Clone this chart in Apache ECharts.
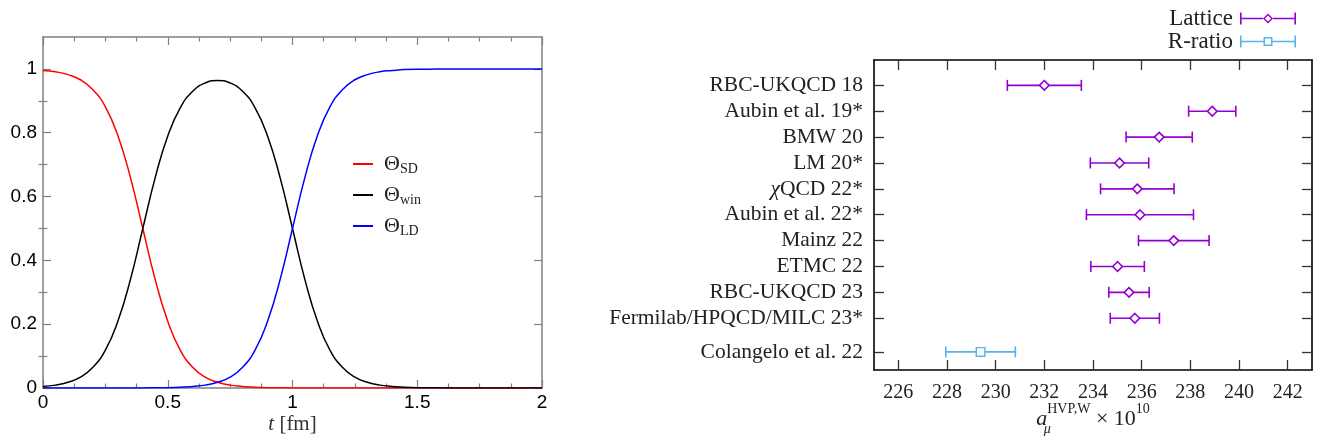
<!DOCTYPE html>
<html>
<head>
<meta charset="utf-8">
<script src="https://cdn.jsdelivr.net/npm/echarts@6/dist/echarts.min.js"></script>
<style>
  html, body { margin: 0; padding: 0; background: #fff; }
  #chart { width: 1331px; height: 447px; }
</style>
</head>
<body>
<div id="chart"></div>
<script>
// ---- Left panel: window weight functions vs Euclidean time t [fm] ----
const tValues = [0, 0.05, 0.1, 0.15, 0.2, 0.25, 0.3, 0.35, 0.4, 0.45, 0.5, 0.55, 0.6, 0.65, 0.7, 0.75, 0.8, 0.85, 0.9, 0.95,
                 1.0, 1.05, 1.1, 1.15, 1.2, 1.25, 1.3, 1.35, 1.4, 1.45, 1.5, 1.55, 1.6, 1.65, 1.7, 1.75, 1.8, 1.85, 1.9, 1.95, 2.0];
const thetaSD  = [0.995, 0.991, 0.982, 0.966, 0.935, 0.881, 0.791, 0.661, 0.500, 0.339, 0.209, 0.119, 0.065, 0.034, 0.018, 0.009, 0.005, 0.002, 0.001, 0.001,
                  0, 0, 0, 0, 0, 0, 0, 0, 0, 0, 0, 0, 0, 0, 0, 0, 0, 0, 0, 0, 0];
const thetaWin = [0.005, 0.009, 0.018, 0.034, 0.065, 0.119, 0.209, 0.339, 0.500, 0.660, 0.790, 0.878, 0.930, 0.956, 0.964, 0.956, 0.930, 0.878, 0.790, 0.660,
                  0.500, 0.339, 0.209, 0.119, 0.065, 0.034, 0.018, 0.009, 0.005, 0.002, 0.001, 0.001, 0, 0, 0, 0, 0, 0, 0, 0, 0];
const thetaLD  = [0, 0, 0, 0, 0, 0, 0, 0, 0.000, 0.001, 0.001, 0.002, 0.005, 0.009, 0.018, 0.034, 0.065, 0.119, 0.209, 0.339,
                  0.500, 0.661, 0.791, 0.881, 0.935, 0.966, 0.982, 0.991, 0.995, 0.998, 0.999, 0.999, 1, 1, 1, 1, 1, 1, 1, 1, 1];
const leftMajorY = [0, 0.2, 0.4, 0.6, 0.8, 1];
const leftMinorY = [0.1, 0.3, 0.5, 0.7, 0.9];

// ---- Right panel: window observable a_mu^{HVP,W} x 10^10 ----
const latticeNames = ['RBC-UKQCD 18', 'Aubin et al. 19*', 'BMW 20', 'LM 20*', 'χQCD 22*', 'Aubin et al. 22*',
                      'Mainz 22', 'ETMC 22', 'RBC-UKQCD 23', 'Fermilab/HPQCD/MILC 23*'];
const latticeRow   = [0, 1, 2, 3, 4, 5, 6, 7, 8, 9];
const latticeValue = [232.0, 238.9, 236.72, 235.09, 235.82, 235.93, 237.32, 235.01, 235.48, 235.72];
const latticeError = [1.52, 0.97, 1.36, 1.2, 1.51, 2.2, 1.45, 1.1, 0.83, 1.01];
const ratioNames = ['Colangelo et al. 22'];
const ratioRow   = [10.3];
const ratioValue = [229.38];
const ratioError = [1.43];
const rightXTicks = [226, 228, 230, 232, 234, 236, 238, 240, 242];

const SANS = 'Liberation Sans';
const SERIF = 'Liberation Serif';
const GREY = '#808080';
const PURPLE = '#9400d3';
const SKY = '#56b4e9';

const allRows = latticeRow.concat(ratioRow);
const allNames = latticeNames.concat(ratioNames);

function rowLabel(v) {
  const i = allRows.findIndex(r => Math.abs(r - v) < 1e-6);
  if (i < 0) return '';
  const n = allNames[i];
  if (n.charAt(0) === 'χ') return '{i|χ}{r|' + n.slice(1) + '}';
  return '{r|' + n + '}';
}

function errorBar(marker) {
  return function (params, api) {
    const c = api.value(0), y = api.value(1), e = api.value(2);
    const p = api.coord([c, y]);
    const lo = api.coord([c - e, y]);
    const hi = api.coord([c + e, y]);
    const color = api.visual('color');
    const cap = 5.5;
    const ls = { stroke: color, lineWidth: 1.6 };
    const kids = [
      { type: 'line', shape: { x1: lo[0], y1: lo[1], x2: hi[0], y2: hi[1] }, style: ls },
      { type: 'line', shape: { x1: lo[0], y1: lo[1] - cap, x2: lo[0], y2: lo[1] + cap }, style: ls },
      { type: 'line', shape: { x1: hi[0], y1: hi[1] - cap, x2: hi[0], y2: hi[1] + cap }, style: ls }
    ];
    if (marker === 'diamond') {
      const r = 4.8;
      kids.push({ type: 'polygon',
        shape: { points: [[p[0], p[1] - r], [p[0] + r, p[1]], [p[0], p[1] + r], [p[0] - r, p[1]]] },
        style: { fill: '#fff', stroke: color, lineWidth: 1.6 } });
    } else {
      const h = 4.3;
      kids.push({ type: 'rect', shape: { x: p[0] - h, y: p[1] - h, width: 2 * h, height: 2 * h },
        style: { fill: '#fff', stroke: color, lineWidth: 1.4 } });
    }
    return { type: 'group', children: kids };
  };
}

// legend glyphs: error bar with hollow marker (56 x 12 box)
const latticeIcon = 'path://M0 5.2H23V6.8H0Z M33 5.2H56V6.8H33Z M0 0H1.6V12H0Z M54.4 0H56V12H54.4Z ' +
                    'M28 1L33 6L28 11L23 6Z M28 2.9L24.9 6L28 9.1L31.1 6Z';
const ratioIcon = 'path://M0 5.2H23.5V6.8H0Z M32.5 5.2H56V6.8H32.5Z M0 0H1.6V12H0Z M54.4 0H56V12H54.4Z ' +
                  'M23.5 1.5H32.5V10.5H23.5Z M25 3V9H31V3Z';

const leftAxisLine = { show: true, onZero: false, lineStyle: { color: GREY, width: 1.5 } };
const rightAxisLine = { show: true, onZero: false, lineStyle: { color: '#000', width: 1.6 } };

const option = {
  animation: false,
  backgroundColor: '#fff',
  grid: [
    { left: 43, top: 37, right: 789, bottom: 59 },
    { left: 874, top: 60, right: 19, bottom: 77 }
  ],
  legend: [
    {
      data: ['SD', 'win', 'LD'],
      orient: 'vertical', left: 348, top: 148,
      itemWidth: 20, itemHeight: 2, itemGap: 8, icon: 'rect',
      formatter: n => '{t|Θ}{s|' + n + '}',
      textStyle: {
        rich: {
          t: { fontFamily: SERIF, fontSize: 22, color: '#222', lineHeight: 24, padding: [0, 0, 0, 6] },
          s: { fontFamily: SERIF, fontSize: 14, color: '#222', lineHeight: 14, verticalAlign: 'bottom' }
        }
      }
    },
    {
      data: [{ name: 'Lattice', icon: latticeIcon }, { name: 'R-ratio', icon: ratioIcon }],
      orient: 'vertical', align: 'right', right: 30, top: 2,
      itemWidth: 56, itemHeight: 12, itemGap: 0,
      itemStyle: { borderWidth: 0 },
      textStyle: { fontFamily: SERIF, fontSize: 23, color: '#222', lineHeight: 22, padding: [0, 2, 0, 0] }
    }
  ],
  xAxis: [
    {
      gridIndex: 0, type: 'value', min: 0, max: 2, interval: 0.5, position: 'bottom',
      axisLine: leftAxisLine,
      axisTick: { inside: true, length: 8, lineStyle: { color: GREY, width: 1.2 } },
      minorTick: { show: true, splitNumber: 4, length: 4.5, lineStyle: { color: GREY, width: 1.2 } },
      splitLine: { show: false },
      axisLabel: { fontFamily: SANS, fontSize: 19, color: '#000', margin: 5 },
      name: '{i|t}{r| [fm]}', nameLocation: 'middle', nameGap: 26, nameMoveOverlap: false,
      nameTextStyle: { rich: {
        i: { fontFamily: SERIF, fontStyle: 'italic', fontSize: 21, color: '#333' },
        r: { fontFamily: SERIF, fontSize: 21, color: '#333' }
      } }
    },
    {
      gridIndex: 0, type: 'value', min: 0, max: 2, interval: 0.5, position: 'top',
      axisLine: leftAxisLine,
      axisTick: { inside: true, length: 8, lineStyle: { color: GREY, width: 1.2 } },
      minorTick: { show: true, splitNumber: 4, length: 4.5, lineStyle: { color: GREY, width: 1.2 } },
      splitLine: { show: false }, axisLabel: { show: false }
    },
    {
      gridIndex: 1, type: 'value', min: 225, max: 243, position: 'bottom',
      axisLine: rightAxisLine,
      axisTick: { inside: true, length: 10, customValues: rightXTicks, lineStyle: { color: '#333', width: 1.3 } },
      splitLine: { show: false },
      axisLabel: { customValues: rightXTicks, fontFamily: SERIF, fontSize: 20, color: '#222', margin: 13 },
      name: '{a|a}{mu|μ}{sup|HVP,W}{x| × 10}{sup|10}', nameLocation: 'middle', nameGap: 32, nameMoveOverlap: false,
      nameTextStyle: { rich: {
        a:   { fontFamily: SERIF, fontStyle: 'italic', fontSize: 22, color: '#222', lineHeight: 34 },
        mu:  { fontFamily: SERIF, fontStyle: 'italic', fontSize: 14, color: '#222', lineHeight: 26, verticalAlign: 'bottom', width: 0 },
        sup: { fontFamily: SERIF, fontSize: 14, color: '#222', lineHeight: 16, verticalAlign: 'top' },
        x:   { fontFamily: SERIF, fontSize: 22, color: '#222', lineHeight: 34 }
      } }
    },
    {
      gridIndex: 1, type: 'value', min: 225, max: 243, position: 'top',
      axisLine: rightAxisLine,
      axisTick: { inside: true, length: 10, customValues: rightXTicks, lineStyle: { color: '#333', width: 1.3 } },
      splitLine: { show: false }, axisLabel: { show: false }
    }
  ],
  yAxis: [
    {
      gridIndex: 0, type: 'value', min: 0, max: 1.1, position: 'left',
      axisLine: leftAxisLine,
      axisTick: { inside: true, length: 8, customValues: leftMajorY, lineStyle: { color: GREY, width: 1.2 } },
      splitLine: { show: false },
      axisLabel: { customValues: leftMajorY, fontFamily: SANS, fontSize: 19, color: '#000', margin: 6 }
    },
    {
      gridIndex: 0, type: 'value', min: 0, max: 1.1, position: 'left',
      axisLine: { show: false },
      axisTick: { inside: true, length: 4.5, customValues: leftMinorY, lineStyle: { color: GREY, width: 1.2 } },
      splitLine: { show: false }, axisLabel: { show: false }
    },
    {
      gridIndex: 0, type: 'value', min: 0, max: 1.1, position: 'right',
      axisLine: leftAxisLine,
      axisTick: { inside: true, length: 8, customValues: leftMajorY, lineStyle: { color: GREY, width: 1.2 } },
      splitLine: { show: false }, axisLabel: { show: false }
    },
    {
      gridIndex: 0, type: 'value', min: 0, max: 1.1, position: 'right',
      axisLine: { show: false },
      axisTick: { inside: true, length: 4.5, customValues: leftMinorY, lineStyle: { color: GREY, width: 1.2 } },
      splitLine: { show: false }, axisLabel: { show: false }
    },
    {
      gridIndex: 1, type: 'value', min: -0.98, max: 11, inverse: true, position: 'left',
      axisLine: rightAxisLine,
      axisTick: { inside: true, length: 10, customValues: allRows, lineStyle: { color: '#333', width: 1.3 } },
      splitLine: { show: false },
      axisLabel: {
        customValues: allRows, margin: 11, formatter: rowLabel,
        rich: {
          r: { fontFamily: SERIF, fontSize: 21.5, color: '#222' },
          i: { fontFamily: SERIF, fontStyle: 'italic', fontSize: 21.5, color: '#222' }
        }
      }
    },
    {
      gridIndex: 1, type: 'value', min: -0.98, max: 11, inverse: true, position: 'right',
      axisLine: rightAxisLine,
      axisTick: { inside: true, length: 10, customValues: allRows, lineStyle: { color: '#333', width: 1.3 } },
      splitLine: { show: false }, axisLabel: { show: false }
    }
  ],
  series: [
    {
      name: 'SD', type: 'line', xAxisIndex: 0, yAxisIndex: 0,
      data: tValues.map((t, i) => [t, thetaSD[i]]),
      showSymbol: false, smooth: 0.5,
      color: '#ff0000', lineStyle: { color: '#ff0000', width: 1.5 }
    },
    {
      name: 'win', type: 'line', xAxisIndex: 0, yAxisIndex: 0,
      data: tValues.map((t, i) => [t, thetaWin[i]]),
      showSymbol: false, smooth: 0.5,
      color: '#000000', lineStyle: { color: '#000000', width: 1.5 }
    },
    {
      name: 'LD', type: 'line', xAxisIndex: 0, yAxisIndex: 0,
      data: tValues.map((t, i) => [t, thetaLD[i]]),
      showSymbol: false, smooth: 0.5,
      color: '#0000ff', lineStyle: { color: '#0000ff', width: 1.5 }
    },
    {
      name: 'Lattice', type: 'custom', xAxisIndex: 2, yAxisIndex: 4,
      itemStyle: { color: PURPLE },
      encode: { x: 0, y: 1 },
      data: latticeValue.map((v, i) => [v, latticeRow[i], latticeError[i]]),
      renderItem: errorBar('diamond')
    },
    {
      name: 'R-ratio', type: 'custom', xAxisIndex: 2, yAxisIndex: 4,
      itemStyle: { color: SKY },
      encode: { x: 0, y: 1 },
      data: ratioValue.map((v, i) => [v, ratioRow[i], ratioError[i]]),
      renderItem: errorBar('square')
    }
  ]
};

const chart = echarts.init(document.getElementById('chart'), null, { renderer: 'canvas' });
chart.setOption(option);
</script>
</body>
</html>
